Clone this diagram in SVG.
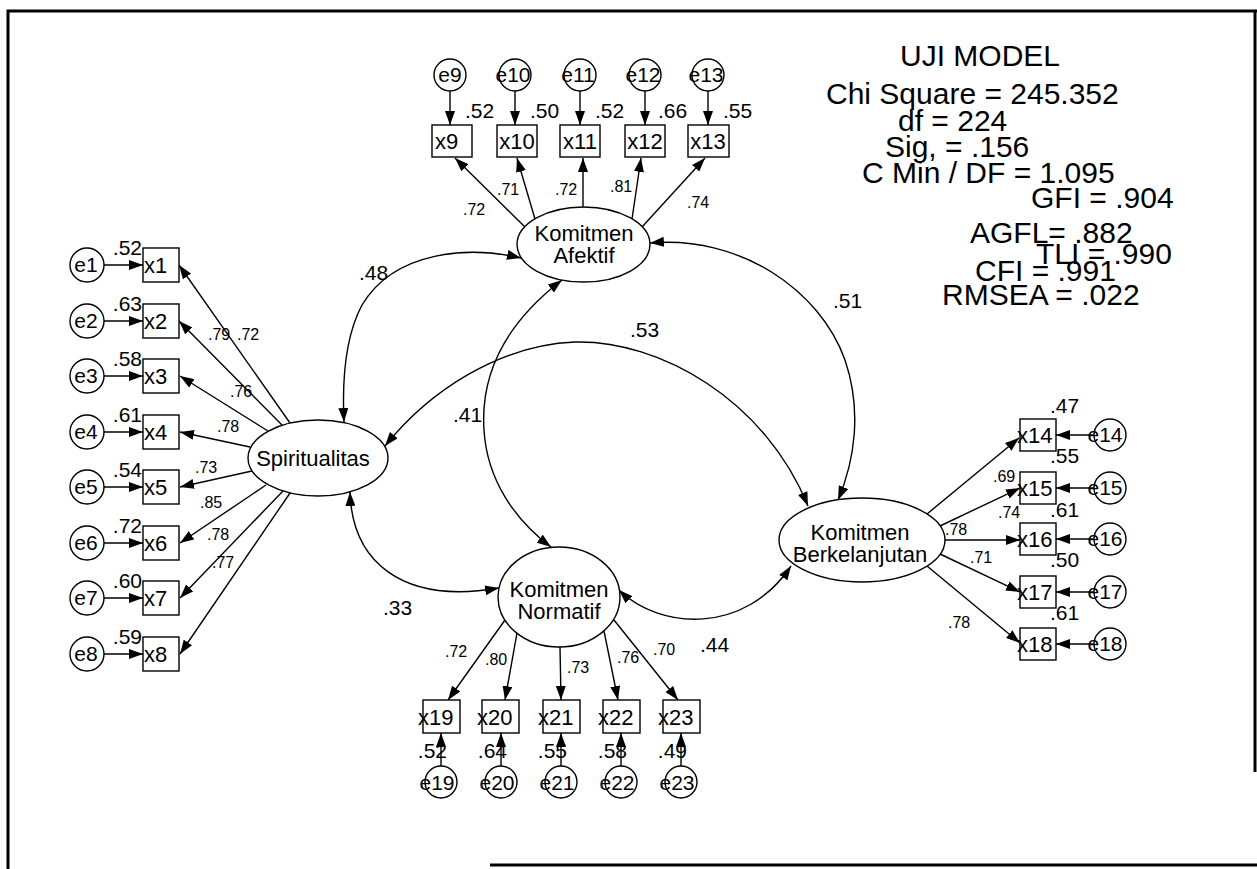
<svg xmlns="http://www.w3.org/2000/svg" width="1257" height="869" viewBox="0 0 1257 869">
<defs>
<marker id="ah" viewBox="0 0 14 10" refX="14" refY="5" markerWidth="14" markerHeight="10" markerUnits="userSpaceOnUse" orient="auto-start-reverse"><path d="M0,0L14,5L0,10z" fill="#000"/></marker>
<style>
text{font-family:"Liberation Sans",Arial,sans-serif;fill:#000}
.n{font-size:22px;text-anchor:middle}
.b{font-size:22px}
.e{font-size:21px;text-anchor:middle}
.w{font-size:16px}
.c{font-size:21px}
.st{font-size:30px}
.sh{fill:#fff;stroke:#000;stroke-width:1.4}
.ln{stroke:#000;stroke-width:1.4;fill:none;marker-end:url(#ah)}
.cv{stroke:#000;stroke-width:1.4;fill:none;marker-start:url(#ah);marker-end:url(#ah)}
.fr{stroke:#000;stroke-width:3;fill:none}
</style>
</defs>
<rect width="1257" height="869" fill="#fff"/>
<g id="frame">
<path class="fr" d="M8,869V11H1257"/>
<path class="fr" d="M1255,11V772"/>
<path class="fr" d="M490,865H1257" stroke-width="2"/>
</g>

<g id="connectors">
<path class="cv" d="M521,258 C470,246 395,250 362,305 C346,335 342,380 344,422"/>
<path class="cv" d="M385,446 C430,390 500,345 575,342 C660,340 765,400 808,506"/>
<path class="cv" d="M562,280 C510,320 480,370 484,430 C487,480 515,520 551,547"/>
<path class="cv" d="M650,243 C740,235 820,290 845,360 C862,410 855,460 838,500"/>
<path class="cv" d="M350,492 C352,560 400,605 499,588"/>
<path class="cv" d="M619,590 C660,630 745,635 791,566"/>
<line class="ln" x1="290" y1="423" x2="179" y2="265"/>
<line class="ln" x1="282" y1="425" x2="179" y2="321"/>
<line class="ln" x1="268" y1="431" x2="180" y2="376"/>
<line class="ln" x1="250" y1="447" x2="180" y2="432"/>
<line class="ln" x1="252" y1="471" x2="180" y2="487"/>
<line class="ln" x1="266" y1="485" x2="180" y2="543"/>
<line class="ln" x1="283" y1="491" x2="180" y2="598"/>
<line class="ln" x1="290" y1="493" x2="180" y2="654"/>
<line class="ln" x1="104" y1="265" x2="143" y2="265"/>
<line class="ln" x1="104" y1="321" x2="143" y2="321"/>
<line class="ln" x1="104" y1="376" x2="143" y2="376"/>
<line class="ln" x1="104" y1="432" x2="143" y2="432"/>
<line class="ln" x1="104" y1="487" x2="143" y2="487"/>
<line class="ln" x1="104" y1="543" x2="143" y2="543"/>
<line class="ln" x1="104" y1="598" x2="143" y2="598"/>
<line class="ln" x1="104" y1="654" x2="143" y2="654"/>
<line class="ln" x1="525" y1="227" x2="455" y2="158"/>
<line class="ln" x1="535" y1="219" x2="517" y2="158"/>
<line class="ln" x1="583" y1="207" x2="583" y2="158"/>
<line class="ln" x1="632" y1="219" x2="641" y2="158"/>
<line class="ln" x1="642" y1="227" x2="705" y2="158"/>
<line class="ln" x1="450" y1="91" x2="450" y2="125"/>
<line class="ln" x1="515" y1="91" x2="515" y2="125"/>
<line class="ln" x1="580" y1="91" x2="580" y2="125"/>
<line class="ln" x1="645" y1="91" x2="645" y2="125"/>
<line class="ln" x1="708" y1="91" x2="708" y2="125"/>
<line class="ln" x1="927" y1="514" x2="1019" y2="438"/>
<line class="ln" x1="940" y1="526" x2="1020" y2="488"/>
<line class="ln" x1="945" y1="540" x2="1020" y2="540"/>
<line class="ln" x1="940" y1="554" x2="1020" y2="592"/>
<line class="ln" x1="927" y1="566" x2="1020" y2="643"/>
<line class="ln" x1="1094" y1="435" x2="1056" y2="435"/>
<line class="ln" x1="1094" y1="488" x2="1056" y2="488"/>
<line class="ln" x1="1094" y1="539" x2="1056" y2="539"/>
<line class="ln" x1="1094" y1="592" x2="1056" y2="592"/>
<line class="ln" x1="1094" y1="644" x2="1056" y2="644"/>
<line class="ln" x1="505" y1="620" x2="448" y2="700"/>
<line class="ln" x1="517" y1="633" x2="505" y2="700"/>
<line class="ln" x1="560" y1="647" x2="561" y2="700"/>
<line class="ln" x1="604" y1="631" x2="618" y2="700"/>
<line class="ln" x1="614" y1="620" x2="678" y2="700"/>
<line class="ln" x1="441" y1="766" x2="441" y2="733"/>
<line class="ln" x1="501" y1="766" x2="501" y2="733"/>
<line class="ln" x1="561" y1="766" x2="561" y2="733"/>
<line class="ln" x1="621" y1="766" x2="621" y2="733"/>
<line class="ln" x1="681" y1="766" x2="681" y2="733"/>
</g>

<g id="labels">
<text class="c" x="359" y="280">.48</text>
<text class="c" x="630" y="337">.53</text>
<text class="c" x="453" y="422">.41</text>
<text class="c" x="833" y="308">.51</text>
<text class="c" x="383" y="615">.33</text>
<text class="c" x="700" y="652">.44</text>
<text class="w" x="208" y="340">.79</text>
<text class="w" x="237" y="340">.72</text>
<text class="w" x="230" y="397">.76</text>
<text class="w" x="217" y="432">.78</text>
<text class="w" x="195" y="473">.73</text>
<text class="w" x="200" y="508">.85</text>
<text class="w" x="207" y="540">.78</text>
<text class="w" x="212" y="568">.77</text>
<text class="w" x="463" y="215">.72</text>
<text class="w" x="497" y="195">.71</text>
<text class="w" x="555" y="195">.72</text>
<text class="w" x="610" y="192">.81</text>
<text class="w" x="687" y="208">.74</text>
<text class="w" x="993" y="482">.69</text>
<text class="w" x="998" y="518">.74</text>
<text class="w" x="945" y="535">.78</text>
<text class="w" x="970" y="563">.71</text>
<text class="w" x="948" y="628">.78</text>
<text class="w" x="445" y="657">.72</text>
<text class="w" x="485" y="665">.80</text>
<text class="w" x="567" y="673">.73</text>
<text class="w" x="617" y="663">.76</text>
<text class="w" x="653" y="655">.70</text>
</g>

<g id="stats">
<text class="st" x="900" y="66">UJI MODEL</text>
<text class="st" x="826" y="104">Chi Square = 245.352</text>
<text class="st" x="898" y="131">df = 224</text>
<text class="st" x="885" y="157">Sig, = .156</text>
<text class="st" x="862" y="183">C Min / DF = 1.095</text>
<text class="st" x="1031" y="208">GFI = .904</text>
<text class="st" x="970" y="243">AGFL= .882</text>
<text class="st" x="1036" y="264">TLI = .990</text>
<text class="st" x="975" y="281">CFI = .991</text>
<text class="st" x="942" y="305">RMSEA = .022</text>
</g>

<g id="Spiritualitas"><ellipse class="sh" cx="318" cy="458" rx="70" ry="38"/><text class="n" x="313" y="466">Spiritualitas</text></g>
<g id="KomitmenAfektif"><ellipse class="sh" cx="583.5" cy="244.5" rx="66.5" ry="37.5"/><text class="n" x="584" y="241">Komitmen</text><text class="n" x="584" y="263">Afektif</text></g>
<g id="KomitmenNormatif"><ellipse class="sh" cx="559" cy="597" rx="61" ry="50"/><text class="n" x="559" y="597">Komitmen</text><text class="n" x="559" y="619">Normatif</text></g>
<g id="KomitmenBerkelanjutan"><ellipse class="sh" cx="862" cy="540" rx="83" ry="42"/><text class="n" x="860" y="540">Komitmen</text><text class="n" x="860" y="562">Berkelanjutan</text></g>

<g id="x1"><rect class="sh" x="143" y="248" width="36" height="34"/><text class="b" x="144" y="273">x1</text></g>
<g id="x2"><rect class="sh" x="143" y="304" width="36" height="34"/><text class="b" x="144" y="329">x2</text></g>
<g id="x3"><rect class="sh" x="143" y="359" width="36" height="34"/><text class="b" x="144" y="384">x3</text></g>
<g id="x4"><rect class="sh" x="143" y="415" width="36" height="34"/><text class="b" x="144" y="440">x4</text></g>
<g id="x5"><rect class="sh" x="143" y="470" width="36" height="34"/><text class="b" x="144" y="495">x5</text></g>
<g id="x6"><rect class="sh" x="143" y="526" width="36" height="34"/><text class="b" x="144" y="551">x6</text></g>
<g id="x7"><rect class="sh" x="143" y="581" width="36" height="34"/><text class="b" x="144" y="606">x7</text></g>
<g id="x8"><rect class="sh" x="143" y="637" width="36" height="34"/><text class="b" x="144" y="662">x8</text></g>

<g id="e1"><circle class="sh" cx="87" cy="265" r="17"/><text class="e" x="86" y="272">e1</text><text class="c" x="142" y="255" text-anchor="end">.52</text></g>
<g id="e2"><circle class="sh" cx="87" cy="321" r="17"/><text class="e" x="86" y="328">e2</text><text class="c" x="142" y="311" text-anchor="end">.63</text></g>
<g id="e3"><circle class="sh" cx="87" cy="376" r="17"/><text class="e" x="86" y="383">e3</text><text class="c" x="142" y="366" text-anchor="end">.58</text></g>
<g id="e4"><circle class="sh" cx="87" cy="432" r="17"/><text class="e" x="86" y="439">e4</text><text class="c" x="142" y="422" text-anchor="end">.61</text></g>
<g id="e5"><circle class="sh" cx="87" cy="487" r="17"/><text class="e" x="86" y="494">e5</text><text class="c" x="142" y="477" text-anchor="end">.54</text></g>
<g id="e6"><circle class="sh" cx="87" cy="543" r="17"/><text class="e" x="86" y="550">e6</text><text class="c" x="142" y="533" text-anchor="end">.72</text></g>
<g id="e7"><circle class="sh" cx="87" cy="598" r="17"/><text class="e" x="86" y="605">e7</text><text class="c" x="142" y="588" text-anchor="end">.60</text></g>
<g id="e8"><circle class="sh" cx="87" cy="654" r="17"/><text class="e" x="86" y="661">e8</text><text class="c" x="142" y="644" text-anchor="end">.59</text></g>

<g id="x9"><rect class="sh" x="432" y="125" width="40" height="32"/><text class="b" x="435" y="149">x9</text></g>
<g id="x10"><rect class="sh" x="497" y="125" width="40" height="32"/><text class="b" x="517" y="149" text-anchor="middle">x10</text></g>
<g id="x11"><rect class="sh" x="560" y="125" width="40" height="32"/><text class="b" x="580" y="149" text-anchor="middle">x11</text></g>
<g id="x12"><rect class="sh" x="625" y="125" width="40" height="32"/><text class="b" x="645" y="149" text-anchor="middle">x12</text></g>
<g id="x13"><rect class="sh" x="688" y="125" width="41" height="32"/><text class="b" x="708" y="149" text-anchor="middle">x13</text></g>

<g id="e9"><circle class="sh" cx="450" cy="75" r="16"/><text class="e" x="450" y="82">e9</text><text class="c" x="465" y="118">.52</text></g>
<g id="e10"><circle class="sh" cx="515" cy="75" r="16"/><text class="e" x="513" y="82">e10</text><text class="c" x="530" y="118">.50</text></g>
<g id="e11"><circle class="sh" cx="580" cy="75" r="16"/><text class="e" x="578" y="82">e11</text><text class="c" x="595" y="118">.52</text></g>
<g id="e12"><circle class="sh" cx="645" cy="75" r="16"/><text class="e" x="643" y="82">e12</text><text class="c" x="658" y="118">.66</text></g>
<g id="e13"><circle class="sh" cx="708" cy="75" r="16"/><text class="e" x="706" y="82">e13</text><text class="c" x="723" y="118">.55</text></g>

<g id="x14"><rect class="sh" x="1020" y="419" width="36" height="32"/><text class="b" x="1017" y="443">x14</text></g>
<g id="x15"><rect class="sh" x="1020" y="472" width="36" height="32"/><text class="b" x="1017" y="496">x15</text></g>
<g id="x16"><rect class="sh" x="1020" y="523" width="36" height="32"/><text class="b" x="1017" y="547">x16</text></g>
<g id="x17"><rect class="sh" x="1020" y="576" width="36" height="32"/><text class="b" x="1017" y="600">x17</text></g>
<g id="x18"><rect class="sh" x="1020" y="628" width="36" height="32"/><text class="b" x="1017" y="652">x18</text></g>

<g id="e14"><circle class="sh" cx="1110" cy="435" r="16"/><text class="e" x="1105" y="442">e14</text><text class="c" x="1050" y="413">.47</text></g>
<g id="e15"><circle class="sh" cx="1110" cy="488" r="16"/><text class="e" x="1105" y="495">e15</text><text class="c" x="1050" y="463">.55</text></g>
<g id="e16"><circle class="sh" cx="1110" cy="539" r="16"/><text class="e" x="1105" y="546">e16</text><text class="c" x="1050" y="517">.61</text></g>
<g id="e17"><circle class="sh" cx="1110" cy="592" r="16"/><text class="e" x="1105" y="599">e17</text><text class="c" x="1050" y="567">.50</text></g>
<g id="e18"><circle class="sh" cx="1110" cy="644" r="16"/><text class="e" x="1105" y="651">e18</text><text class="c" x="1050" y="620">.61</text></g>

<g id="x19"><rect class="sh" x="423" y="700" width="37" height="33"/><text class="b" x="418" y="725">x19</text></g>
<g id="x20"><rect class="sh" x="482" y="700" width="37" height="33"/><text class="b" x="477" y="725">x20</text></g>
<g id="x21"><rect class="sh" x="543" y="700" width="37" height="33"/><text class="b" x="538" y="725">x21</text></g>
<g id="x22"><rect class="sh" x="603" y="700" width="37" height="33"/><text class="b" x="598" y="725">x22</text></g>
<g id="x23"><rect class="sh" x="663" y="700" width="37" height="33"/><text class="b" x="658" y="725">x23</text></g>

<g id="e19"><circle class="sh" cx="441" cy="782" r="16"/><text class="e" x="437" y="790">e19</text><text class="c" x="447" y="758" text-anchor="end">.52</text></g>
<g id="e20"><circle class="sh" cx="501" cy="782" r="16"/><text class="e" x="497" y="790">e20</text><text class="c" x="507" y="758" text-anchor="end">.64</text></g>
<g id="e21"><circle class="sh" cx="561" cy="782" r="16"/><text class="e" x="557" y="790">e21</text><text class="c" x="567" y="758" text-anchor="end">.55</text></g>
<g id="e22"><circle class="sh" cx="621" cy="782" r="16"/><text class="e" x="617" y="790">e22</text><text class="c" x="627" y="758" text-anchor="end">.58</text></g>
<g id="e23"><circle class="sh" cx="681" cy="782" r="16"/><text class="e" x="677" y="790">e23</text><text class="c" x="687" y="758" text-anchor="end">.49</text></g>
</svg>
